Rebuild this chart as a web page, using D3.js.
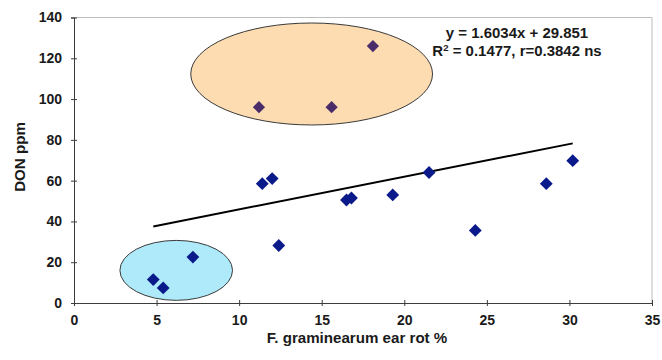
<!DOCTYPE html>
<html>
<head>
<meta charset="utf-8">
<script src="https://cdn.jsdelivr.net/npm/d3@7"></script>
<style>
  html, body { margin: 0; padding: 0; background: #fff; }
  svg { display: block; font-family: Arial, "Liberation Sans", sans-serif; }
</style>
</head>
<body>
<svg id="chart" width="662" height="360"></svg>
<script>
// Ear rot severity (%) and DON content (ppm)
const earRot = [4.8, 5.4, 7.2, 12.4, 11.4, 12.0, 16.5, 16.8, 19.3, 21.5, 24.3, 28.6, 30.2];
const don    = [11.5, 7.4, 22.5, 28.2, 58.5, 61.0, 50.5, 51.5, 53.0, 64.0, 35.6, 58.5, 69.8];

// High-DON group
const earRotHigh = [11.2, 15.6, 18.1];
const donHigh    = [96.0, 96.0, 126.0];

// Fitted line y = slope * x + intercept
const slope = 1.6034;
const intercept = 29.851;
const fitLabel = ["y = 1.6034x + 29.851", "R", "2", " = 0.1477, r=0.3842 ns"];

// Group outlines: [centre x, centre y, radius x, radius y] in data units
const highGroupEllipse = [14.39, 112.3, 7.32, 25.0];
const lowGroupEllipse  = [6.19, 16.0, 3.41, 14.7];

const xTicks = [0, 5, 10, 15, 20, 25, 30, 35];
const yTicks = [0, 20, 40, 60, 80, 100, 120, 140];

const margin = { left: 74, right: 10, top: 17.5, bottom: 57 };
const W = 662, H = 360;
const FONT = "14px";
const svg = d3.select("#chart");

const x = d3.scaleLinear().domain([0, 35]).range([margin.left, W - margin.right]);
const y = d3.scaleLinear().domain([0, 140]).range([H - margin.bottom, margin.top]);

// plot frame (top and right edges)
svg.append("path")
  .attr("d", `M${x(0)},${y(140)}H${x(35)}V${y(0)}`)
  .attr("fill", "none")
  .attr("stroke", "#bdbdbd")
  .attr("stroke-width", 1);

// group ellipses
function drawEllipse(e, fill) {
  const [cx, cy, rx, ry] = e;
  svg.append("ellipse")
    .attr("cx", x(cx)).attr("cy", y(cy))
    .attr("rx", x(cx + rx) - x(cx))
    .attr("ry", y(cy) - y(cy + ry))
    .attr("fill", fill)
    .attr("stroke", "#3a3a3a")
    .attr("stroke-width", 1);
}
drawEllipse(highGroupEllipse, "#fcdcb0");
drawEllipse(lowGroupEllipse, "#aeeaf9");

// axes with tick marks crossing the axis line
const xAxis = svg.append("g")
  .attr("transform", `translate(0,${y(0)})`)
  .call(d3.axisBottom(x).tickValues(xTicks).tickSize(3).tickPadding(9));
xAxis.selectAll(".tick line").attr("y1", -3);
const yAxis = svg.append("g")
  .attr("transform", `translate(${x(0)},0)`)
  .call(d3.axisLeft(y).tickValues(yTicks).tickSize(3).tickPadding(9));
yAxis.selectAll(".tick line").attr("x1", 3);
[xAxis, yAxis].forEach(g => {
  g.select(".domain").attr("stroke", "#3c3c3c");
  g.selectAll(".tick line").attr("stroke", "#3c3c3c");
  g.selectAll(".tick text")
    .attr("fill", "#1a1a1a")
    .style("font-size", FONT)
    .style("font-weight", "bold")
    .style("font-family", "Arial, 'Liberation Sans', sans-serif");
});

// trend line across the data range
const xMin = d3.min(earRot), xMax = d3.max(earRot);
svg.append("line")
  .attr("x1", x(xMin)).attr("y1", y(slope * xMin + intercept))
  .attr("x2", x(xMax)).attr("y2", y(slope * xMax + intercept))
  .attr("stroke", "#000")
  .attr("stroke-width", 2);

// diamond markers
const diamond = d3.symbol().type(d3.symbolDiamond2);
svg.append("g").selectAll("path")
  .data(d3.zip(earRotHigh, donHigh))
  .join("path")
  .attr("d", diamond.size(95))
  .attr("transform", d => `translate(${x(d[0])},${y(d[1])})`)
  .attr("fill", "#4a2c6a");
svg.append("g").selectAll("path")
  .data(d3.zip(earRot, don))
  .join("path")
  .attr("d", diamond.size(105))
  .attr("transform", d => `translate(${x(d[0])},${y(d[1])})`)
  .attr("fill", "#0b1a8a");

// equation label
const eq = svg.append("g")
  .attr("transform", "translate(517,0) scale(1.07,1)")
  .append("text")
  .attr("text-anchor", "middle")
  .attr("fill", "#1a1a1a")
  .style("font-size", FONT)
  .style("font-weight", "bold");
eq.append("tspan").attr("x", 0).attr("y", 38).text(fitLabel[0]);
const l2 = eq.append("tspan").attr("x", 0).attr("y", 56);
l2.append("tspan").text(fitLabel[1]);
l2.append("tspan").attr("dy", -5).style("font-size", "9px").text(fitLabel[2]);
l2.append("tspan").attr("dy", 5).text(fitLabel[3]);

// axis titles
svg.append("text")
  .attr("transform", "translate(357,343) scale(1.08,1)")
  .attr("text-anchor", "middle")
  .attr("fill", "#1a1a1a")
  .style("font-size", FONT).style("font-weight", "bold")
  .text("F. graminearum ear rot %");
svg.append("text")
  .attr("transform", "translate(25,157) rotate(-90) scale(1.08,1)")
  .attr("text-anchor", "middle")
  .attr("fill", "#1a1a1a")
  .style("font-size", FONT).style("font-weight", "bold")
  .text("DON ppm");
</script>
</body>
</html>
